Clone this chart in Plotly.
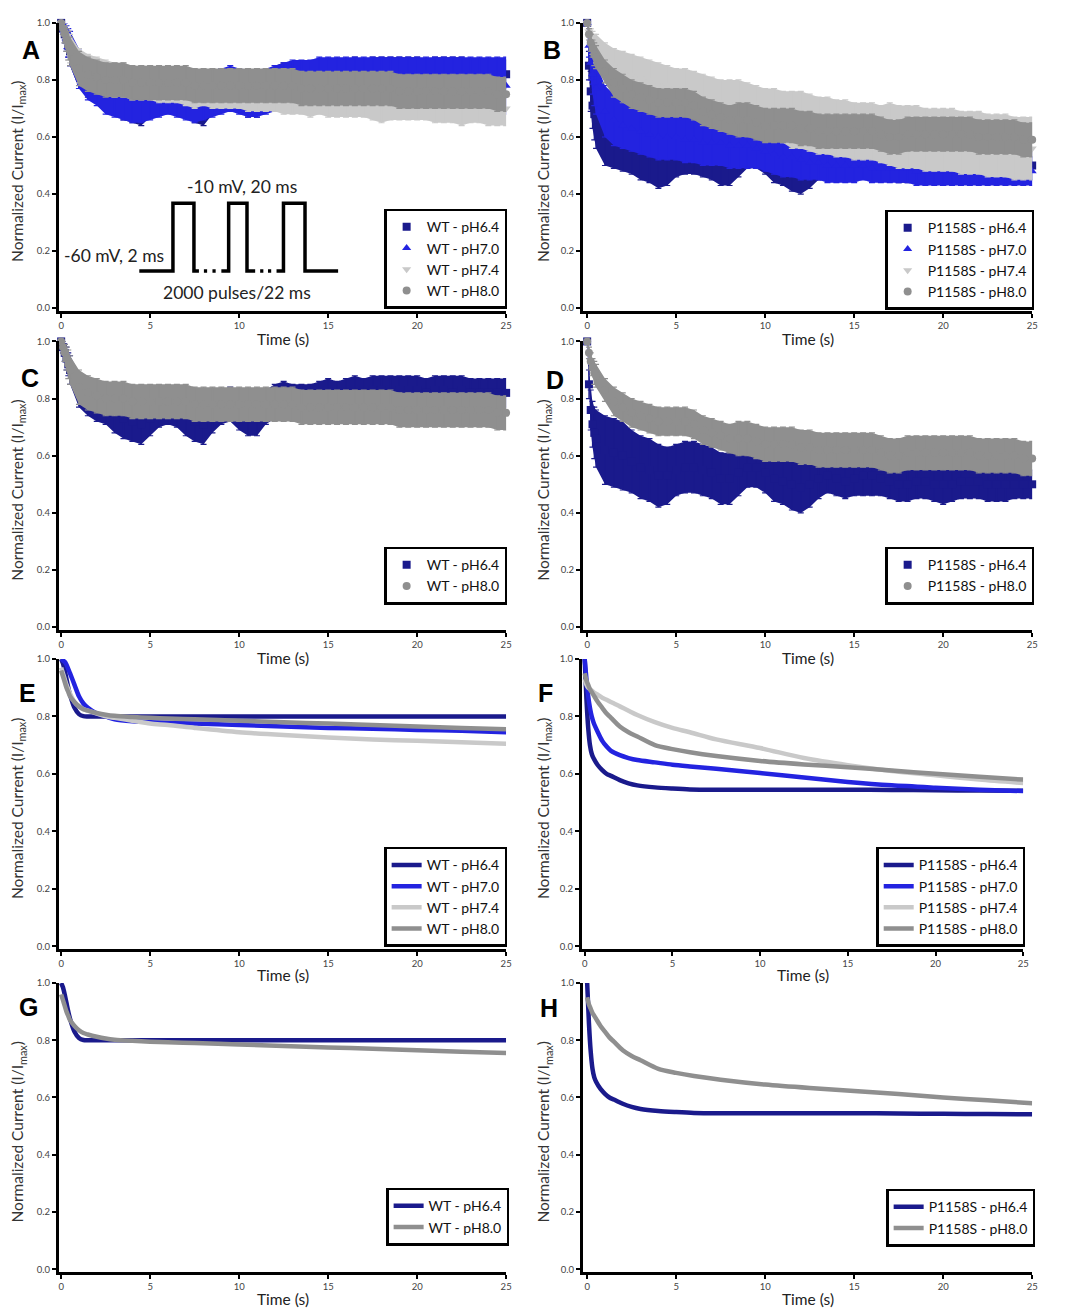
import plotly.graph_objects as go

W, H = 1068, 1310
FONT = "Lato, 'Open Sans', sans-serif"

# ---------------- sample times ----------------
TIME = [0.0, 0.1, 0.2, 0.3, 0.4] + [round(0.5 * k, 1) for k in range(1, 51)]
FIT_TIME = [0, 0.1, 0.2, 0.3, 0.4, 0.5, 0.75, 1.0, 1.25, 1.5, 2.0, 2.5, 3.0, 4.0,
            5.0, 6.0, 7.5, 10.0, 12.5, 15.0, 17.5, 20.0, 22.5, 25.0]

# ---------------- WT normalized current (mean, SEM) ----------------
WT64_MEAN = [1.00, 0.98, 0.96, 0.94, 0.92,
             0.90, 0.83, 0.80, 0.78, 0.77, 0.75, 0.73, 0.72, 0.71, 0.73,
             0.76, 0.77, 0.76, 0.74, 0.72, 0.71, 0.74, 0.77, 0.78, 0.76,
             0.74, 0.74, 0.77, 0.79, 0.80, 0.79, 0.79, 0.79, 0.80, 0.81,
             0.81, 0.82, 0.82, 0.82, 0.83, 0.83, 0.82, 0.83, 0.83, 0.83,
             0.82, 0.83, 0.83, 0.82, 0.83, 0.82, 0.82, 0.82, 0.82, 0.82]
WT64_ERR = [0.01, 0.02, 0.03, 0.04, 0.04,
            0.05, 0.06, 0.06, 0.06, 0.06, 0.07, 0.07, 0.07, 0.07, 0.06,
            0.06, 0.06, 0.06, 0.07, 0.07, 0.07, 0.06, 0.06, 0.06, 0.07,
            0.07, 0.07, 0.06, 0.06, 0.06, 0.06, 0.06, 0.06, 0.06, 0.06,
            0.05, 0.05, 0.06, 0.05, 0.05, 0.05, 0.06, 0.05, 0.05, 0.05,
            0.05, 0.05, 0.05, 0.06, 0.05, 0.05, 0.05, 0.05, 0.05, 0.05]
WT70_MEAN = [1.00, 0.99, 0.97, 0.95, 0.93,
             0.91, 0.84, 0.80, 0.78, 0.76, 0.75, 0.74, 0.73, 0.73, 0.74,
             0.75, 0.76, 0.75, 0.74, 0.73, 0.74, 0.75, 0.76, 0.77, 0.76,
             0.75, 0.75, 0.76, 0.77, 0.78, 0.78, 0.78, 0.78, 0.79, 0.79,
             0.79, 0.79, 0.79, 0.79, 0.79, 0.79, 0.79, 0.79, 0.79, 0.78,
             0.78, 0.78, 0.78, 0.78, 0.78, 0.78, 0.78, 0.78, 0.78, 0.78]
WT70_ERR = [0.01, 0.02, 0.03, 0.04, 0.05,
            0.06, 0.07, 0.07, 0.07, 0.08, 0.08, 0.08, 0.08, 0.08, 0.08,
            0.08, 0.08, 0.08, 0.08, 0.08, 0.08, 0.08, 0.08, 0.08, 0.08,
            0.08, 0.08, 0.08, 0.08, 0.08, 0.09, 0.09, 0.09, 0.09, 0.09,
            0.09, 0.09, 0.09, 0.09, 0.09, 0.09, 0.09, 0.09, 0.09, 0.10,
            0.10, 0.10, 0.10, 0.10, 0.10, 0.10, 0.10, 0.10, 0.10, 0.10]
WT74_MEAN = [1.00, 0.98, 0.96, 0.94, 0.92,
             0.91, 0.85, 0.83, 0.82, 0.81, 0.80, 0.80, 0.79, 0.79, 0.79,
             0.78, 0.78, 0.78, 0.77, 0.77, 0.77, 0.76, 0.76, 0.76, 0.76,
             0.75, 0.75, 0.75, 0.75, 0.74, 0.74, 0.74, 0.74, 0.74, 0.73,
             0.73, 0.73, 0.73, 0.73, 0.72, 0.72, 0.72, 0.72, 0.72, 0.72,
             0.72, 0.71, 0.71, 0.71, 0.71, 0.71, 0.71, 0.70, 0.70, 0.70]
WT74_ERR = [0.01, 0.02, 0.03, 0.04, 0.05,
            0.05, 0.06, 0.06, 0.06, 0.06, 0.06, 0.06, 0.06, 0.06, 0.06,
            0.06, 0.06, 0.06, 0.06, 0.07, 0.06, 0.06, 0.06, 0.06, 0.06,
            0.06, 0.06, 0.06, 0.06, 0.06, 0.06, 0.06, 0.07, 0.06, 0.06,
            0.06, 0.06, 0.06, 0.06, 0.06, 0.07, 0.06, 0.06, 0.06, 0.06,
            0.06, 0.06, 0.06, 0.06, 0.07, 0.06, 0.06, 0.06, 0.06, 0.06]
WT80_MEAN = [1.00, 0.98, 0.96, 0.94, 0.92,
             0.90, 0.84, 0.82, 0.81, 0.80, 0.80, 0.80, 0.79, 0.79, 0.79,
             0.79, 0.79, 0.79, 0.79, 0.78, 0.78, 0.78, 0.78, 0.78, 0.78,
             0.78, 0.78, 0.78, 0.78, 0.78, 0.78, 0.77, 0.77, 0.77, 0.77,
             0.77, 0.77, 0.77, 0.77, 0.77, 0.77, 0.77, 0.76, 0.76, 0.76,
             0.76, 0.76, 0.76, 0.76, 0.76, 0.76, 0.76, 0.76, 0.75, 0.75]
WT80_ERR = [0.01, 0.02, 0.03, 0.04, 0.05,
            0.05, 0.06, 0.06, 0.06, 0.06, 0.06, 0.06, 0.06, 0.06, 0.06,
            0.06, 0.06, 0.06, 0.06, 0.06, 0.06, 0.06, 0.06, 0.06, 0.06,
            0.06, 0.06, 0.06, 0.06, 0.06, 0.06, 0.06, 0.06, 0.06, 0.06,
            0.06, 0.06, 0.06, 0.06, 0.06, 0.06, 0.06, 0.06, 0.06, 0.06,
            0.06, 0.06, 0.06, 0.06, 0.06, 0.06, 0.06, 0.06, 0.06, 0.06]

# ---------------- P1158S normalized current (mean, SEM) ----------------
P64_MEAN = [1.00, 0.85, 0.76, 0.71, 0.68,
            0.66, 0.62, 0.61, 0.60, 0.58, 0.56, 0.55, 0.53, 0.53, 0.55,
            0.56, 0.56, 0.55, 0.54, 0.52, 0.52, 0.54, 0.56, 0.56, 0.54,
            0.52, 0.51, 0.50, 0.49, 0.50, 0.52, 0.53, 0.52, 0.51, 0.52,
            0.53, 0.53, 0.52, 0.51, 0.50, 0.50, 0.51, 0.51, 0.50, 0.50,
            0.50, 0.51, 0.51, 0.51, 0.50, 0.50, 0.50, 0.50, 0.50, 0.50]
P64_ERR = [0.01, 0.05, 0.07, 0.08, 0.09,
           0.10, 0.12, 0.12, 0.12, 0.11, 0.11, 0.11, 0.11, 0.10, 0.09,
           0.09, 0.09, 0.09, 0.09, 0.09, 0.09, 0.08, 0.07, 0.07, 0.07,
           0.08, 0.08, 0.09, 0.09, 0.08, 0.07, 0.06, 0.06, 0.06, 0.06,
           0.07, 0.07, 0.06, 0.06, 0.06, 0.06, 0.06, 0.06, 0.06, 0.07,
           0.06, 0.06, 0.06, 0.06, 0.06, 0.06, 0.06, 0.05, 0.05, 0.05]
P70_MEAN = [1.00, 0.92, 0.86, 0.82, 0.79,
            0.77, 0.69, 0.66, 0.64, 0.63, 0.62, 0.61, 0.60, 0.60, 0.60,
            0.59, 0.59, 0.58, 0.58, 0.58, 0.57, 0.57, 0.57, 0.56, 0.55,
            0.54, 0.53, 0.53, 0.52, 0.51, 0.51, 0.50, 0.50, 0.50, 0.50,
            0.50, 0.49, 0.49, 0.49, 0.49, 0.49, 0.48, 0.48, 0.48, 0.48,
            0.48, 0.48, 0.48, 0.48, 0.48, 0.48, 0.48, 0.48, 0.48, 0.48]
P70_ERR = [0.01, 0.04, 0.06, 0.07, 0.08,
           0.09, 0.09, 0.09, 0.08, 0.08, 0.08, 0.08, 0.08, 0.08, 0.08,
           0.08, 0.08, 0.08, 0.08, 0.08, 0.08, 0.08, 0.08, 0.07, 0.07,
           0.07, 0.07, 0.07, 0.07, 0.06, 0.06, 0.06, 0.06, 0.06, 0.06,
           0.05, 0.05, 0.05, 0.05, 0.05, 0.05, 0.05, 0.05, 0.05, 0.05,
           0.05, 0.05, 0.05, 0.05, 0.05, 0.05, 0.05, 0.05, 0.05, 0.05]
P74_MEAN = [1.00, 0.97, 0.95, 0.93, 0.92,
            0.91, 0.87, 0.85, 0.83, 0.82, 0.81, 0.80, 0.79, 0.78, 0.77,
            0.76, 0.75, 0.74, 0.73, 0.72, 0.72, 0.71, 0.70, 0.69, 0.68,
            0.68, 0.67, 0.66, 0.66, 0.65, 0.64, 0.64, 0.63, 0.63, 0.62,
            0.62, 0.62, 0.61, 0.61, 0.60, 0.60, 0.60, 0.59, 0.59, 0.59,
            0.59, 0.58, 0.58, 0.58, 0.57, 0.57, 0.57, 0.56, 0.56, 0.56]
P74_ERR = [0.01, 0.02, 0.03, 0.04, 0.04,
           0.05, 0.06, 0.06, 0.07, 0.07, 0.07, 0.07, 0.07, 0.07, 0.07,
           0.08, 0.08, 0.08, 0.08, 0.08, 0.08, 0.09, 0.09, 0.09, 0.09,
           0.09, 0.09, 0.10, 0.10, 0.10, 0.10, 0.10, 0.10, 0.10, 0.10,
           0.10, 0.10, 0.10, 0.11, 0.11, 0.11, 0.11, 0.11, 0.11, 0.11,
           0.11, 0.11, 0.11, 0.11, 0.11, 0.11, 0.11, 0.11, 0.11, 0.11]
P80_MEAN = [1.00, 0.96, 0.93, 0.91, 0.89,
            0.88, 0.83, 0.79, 0.77, 0.75, 0.74, 0.73, 0.72, 0.72, 0.72,
            0.72, 0.71, 0.69, 0.68, 0.67, 0.66, 0.66, 0.66, 0.65, 0.64,
            0.64, 0.64, 0.64, 0.63, 0.63, 0.62, 0.62, 0.62, 0.62, 0.62,
            0.62, 0.62, 0.61, 0.60, 0.60, 0.61, 0.61, 0.61, 0.61, 0.61,
            0.61, 0.61, 0.61, 0.60, 0.60, 0.60, 0.60, 0.60, 0.59, 0.59]
P80_ERR = [0.01, 0.02, 0.03, 0.03, 0.04,
           0.04, 0.04, 0.05, 0.05, 0.05, 0.05, 0.05, 0.05, 0.05, 0.05,
           0.05, 0.05, 0.05, 0.05, 0.05, 0.05, 0.06, 0.06, 0.06, 0.06,
           0.06, 0.06, 0.06, 0.06, 0.06, 0.06, 0.06, 0.06, 0.06, 0.06,
           0.06, 0.06, 0.06, 0.06, 0.06, 0.06, 0.06, 0.06, 0.06, 0.06,
           0.06, 0.06, 0.06, 0.06, 0.06, 0.06, 0.06, 0.06, 0.06, 0.06]

# ---------------- fitted curves ----------------
WT64_FIT = [1.00, 0.985, 0.96, 0.93, 0.90, 0.875, 0.83, 0.808, 0.801, 0.80, 0.80, 0.80,
            0.80, 0.80, 0.80, 0.80, 0.80, 0.80, 0.80, 0.80, 0.80, 0.80, 0.80, 0.80]
WT70_FIT = [1.00, 0.995, 0.99, 0.98, 0.965, 0.95, 0.91, 0.87, 0.845, 0.83, 0.81, 0.80,
            0.79, 0.783, 0.78, 0.778, 0.775, 0.77, 0.765, 0.76, 0.757, 0.753, 0.75, 0.745]
WT74_FIT = [0.97, 0.95, 0.93, 0.91, 0.895, 0.88, 0.85, 0.835, 0.825, 0.82, 0.81, 0.80,
            0.795, 0.785, 0.775, 0.77, 0.76, 0.745, 0.735, 0.727, 0.72, 0.715, 0.71, 0.705]
WT80_FIT = [0.96, 0.94, 0.92, 0.90, 0.885, 0.87, 0.85, 0.835, 0.825, 0.82, 0.812, 0.806,
            0.802, 0.798, 0.795, 0.793, 0.79, 0.785, 0.78, 0.775, 0.77, 0.765, 0.76, 0.755]
P64_FIT = [1.00, 0.86, 0.76, 0.70, 0.67, 0.655, 0.63, 0.613, 0.60, 0.593, 0.578, 0.567,
           0.56, 0.553, 0.549, 0.546, 0.545, 0.545, 0.545, 0.545, 0.544, 0.543, 0.542, 0.541]
P70_FIT = [1.00, 0.93, 0.87, 0.83, 0.80, 0.78, 0.745, 0.715, 0.695, 0.68, 0.665, 0.655,
           0.648, 0.64, 0.632, 0.626, 0.618, 0.603, 0.587, 0.572, 0.56, 0.552, 0.545, 0.54]
P74_FIT = [0.93, 0.91, 0.90, 0.895, 0.89, 0.885, 0.875, 0.865, 0.858, 0.85, 0.835, 0.82,
           0.805, 0.78, 0.76, 0.745, 0.72, 0.69, 0.655, 0.63, 0.61, 0.595, 0.58, 0.568]
P80_FIT = [0.95, 0.925, 0.91, 0.895, 0.885, 0.875, 0.85, 0.83, 0.81, 0.795, 0.765, 0.745,
           0.73, 0.70, 0.686, 0.675, 0.662, 0.645, 0.633, 0.623, 0.612, 0.60, 0.59, 0.58]

PH_LABELS = ["pH6.4", "pH7.0", "pH7.4", "pH8.0"]
COLORS = ["#1a1a8c", "#2323e0", "#c9c9c9", "#8f8f8f"]
SYMBOLS = ["square", "triangle-up", "triangle-down", "circle"]

WT_DATA = [(WT64_MEAN, WT64_ERR), (WT70_MEAN, WT70_ERR), (WT74_MEAN, WT74_ERR), (WT80_MEAN, WT80_ERR)]
P_DATA = [(P64_MEAN, P64_ERR), (P70_MEAN, P70_ERR), (P74_MEAN, P74_ERR), (P80_MEAN, P80_ERR)]
WT_FITS = [WT64_FIT, WT70_FIT, WT74_FIT, WT80_FIT]
P_FITS = [P64_FIT, P70_FIT, P74_FIT, P80_FIT]

# ---------------- layout geometry (pixels) ----------------
ROWS = {1: (17, 307), 2: (337.5, 628), 3: (657, 949), 4: (983, 1274)}
COLS = {"L": (59, 509, -0.14), "R": (586, 1038, -0.25), "F": (585, 1029, -0.17)}

# letter, col, row, kind, genotype, series indices, legend right/top px
PANELS = [
    ("A", "L", 1, "data", "WT", [0, 1, 2, 3], 510, 204),
    ("B", "R", 1, "data", "P1158S", [0, 1, 2, 3], 1040, 205),
    ("C", "L", 2, "data", "WT", [0, 3], 510, 544),
    ("D", "R", 2, "data", "P1158S", [0, 3], 1040, 544),
    ("E", "L", 3, "fit", "WT", [0, 1, 2, 3], 510, 846),
    ("F", "F", 3, "fit", "P1158S", [0, 1, 2, 3], 1031, 846),
    ("G", "L", 4, "fit", "WT", [0, 3], 512, 1189),
    ("H", "R", 4, "fit", "P1158S", [0, 3], 1041, 1190),
]
LETTER_POS = {"A": (31, 44), "B": (555, 44), "C": (30, 374), "D": (558, 376),
              "E": (28, 691), "F": (549, 691), "G": (29, 1007), "H": (552, 1008)}


def px(x):
    return x / W


def py(y):
    return 1 - y / H


fig = go.Figure()
layout = dict(width=W, height=H, margin=dict(l=0, r=0, t=0, b=0),
              paper_bgcolor="white", plot_bgcolor="white",
              font=dict(family=FONT, color="#222"), showlegend=True)
annotations = []

for i, (letter, col, row, kind, geno, idxs, lg_r, lg_t) in enumerate(PANELS, start=1):
    xa, ya = f"x{i}", f"y{i}"
    sfx = "" if i == 1 else str(i)
    lg = "legend" if i == 1 else f"legend{i}"
    x0, x1, xmin = COLS[col]
    top, bot = ROWS[row]
    layout[f"xaxis{sfx}"] = dict(
        domain=[px(x0), px(x1)], range=[xmin, 25], anchor=ya,
        showline=True, linecolor="black", linewidth=2.5, ticks="outside",
        ticklen=4, tickwidth=2, tickcolor="black", tickvals=[0, 5, 10, 15, 20, 25],
        showgrid=False, zeroline=False, tickfont=dict(size=9.5, color="#444", family=FONT))
    layout[f"yaxis{sfx}"] = dict(
        domain=[py(bot), py(top)], range=[-0.0105, 1.0], anchor=xa,
        showline=True, linecolor="black", linewidth=2.5, ticks="outside",
        ticklen=4, tickwidth=2, tickcolor="black",
        tickvals=[0, 0.2, 0.4, 0.6, 0.8, 1.0], ticktext=["0.0", "0.2", "0.4", "0.6", "0.8", "1.0"],
        showgrid=False, zeroline=False, tickfont=dict(size=9.5, color="#444", family=FONT))
    layout[lg] = dict(
        x=px(lg_r), y=py(lg_t), xanchor="right", yanchor="top",
        bordercolor="black", borderwidth=2.5, bgcolor="white", traceorder="normal",
        font=dict(size=14, family=FONT, color="#111"), tracegroupgap=0,
        itemwidth=30)

    data = WT_DATA if geno == "WT" else P_DATA
    fits = WT_FITS if geno == "WT" else P_FITS
    for k in idxs:
        name = f"{geno} - {PH_LABELS[k]}"
        c = COLORS[k]
        if kind == "data":
            mean, err = data[k]
            upper = [m + e for m, e in zip(mean, err)]
            lower = [m - e for m, e in zip(mean, err)]
            fig.add_trace(go.Scatter(x=TIME, y=upper, mode="lines", line=dict(width=0, color=c),
                                     showlegend=False, hoverinfo="skip", legend=lg,
                                     xaxis=xa, yaxis=ya))
            fig.add_trace(go.Scatter(x=TIME, y=lower, mode="lines", line=dict(width=0, color=c),
                                     fill="tonexty", fillcolor=c, showlegend=False, legend=lg,
                                     hoverinfo="skip", xaxis=xa, yaxis=ya))
            fig.add_trace(go.Scatter(
                x=TIME, y=mean, mode="markers", name=name, legend=lg,
                marker=dict(symbol=SYMBOLS[k], size=8, color=c, line=dict(width=0)),
                error_y=dict(type="data", array=err, color=c, thickness=1.2, width=3),
                cliponaxis=False, xaxis=xa, yaxis=ya))
        else:
            fig.add_trace(go.Scatter(
                x=FIT_TIME, y=fits[k], mode="lines", name=name, legend=lg,
                line=dict(color=c, width=4.5, shape="spline", smoothing=0.8),
                cliponaxis=False, xaxis=xa, yaxis=ya))

    # panel letter
    lx, ly = LETTER_POS[letter]
    annotations.append(dict(x=px(lx), y=py(ly), xref="paper", yref="paper", text=f"<b>{letter}</b>",
                            xanchor="center", yanchor="middle", showarrow=False,
                            font=dict(size=25, family="Liberation Sans, Arial", color="black")))
    # y title
    ytx = 18 if col == "L" else 547
    annotations.append(dict(x=px(ytx), y=py((top + bot) / 2 + 4), xref="paper", yref="paper",
                            xanchor="center", yanchor="middle",
                            text="Normalized Current (I/I<sub>max</sub>)", textangle=-90, showarrow=False,
                            font=dict(size=15.5, family=FONT, color="#333")))
    # x title
    xtx = 285 if col == "L" else (808 if col == "F" else 813)
    xty = {1: 335, 2: 656, 3: 975, 4: 1301}[row]
    annotations.append(dict(x=px(xtx), y=py(xty), xref="paper", yref="paper", text="Time (s)",
                            xanchor="center", yanchor="middle", showarrow=False,
                            font=dict(size=15.5, family=FONT, color="#222")))

# ---------------- stimulation protocol schematic (panel A) ----------------
BASE, TOP = 0.13, 0.368
PULSE_SEGMENTS = [
    [(4.39, BASE), (6.28, BASE), (6.28, TOP), (7.46, TOP), (7.46, BASE), (7.74, BASE)],
    [(8.02, BASE), (8.2, BASE)],
    [(8.5, BASE), (8.68, BASE)],
    [(9.0, BASE), (9.41, BASE), (9.41, TOP), (10.44, TOP), (10.44, BASE), (10.9, BASE)],
    [(11.18, BASE), (11.36, BASE)],
    [(11.62, BASE), (11.8, BASE)],
    [(12.1, BASE), (12.49, BASE), (12.49, TOP), (13.7, TOP), (13.7, BASE), (15.56, BASE)],
]
shapes = []
for seg in PULSE_SEGMENTS:
    path = "M " + " L ".join(f"{x},{y}" for x, y in seg)
    shapes.append(dict(type="path", path=path, xref="x", yref="y",
                       line=dict(color="black", width=3.5)))
PROTO_TEXT = [("-10 mV, 20 ms", 10.14, 0.425), ("-60 mV, 2 ms", 2.99, 0.185),
              ("2000 pulses/22 ms", 9.86, 0.056)]
for txt, tx, ty in PROTO_TEXT:
    annotations.append(dict(x=tx, y=ty, xref="x", yref="y", text=txt, showarrow=False,
                            xanchor="center", yanchor="middle",
                            font=dict(size=17.5, family=FONT, color="#222")))

layout["annotations"] = annotations
layout["shapes"] = shapes
fig.update_layout(**layout)
fig.write_html("out.html", config={"displayModeBar": False},
               post_script="document.body.style.margin='0px';")
